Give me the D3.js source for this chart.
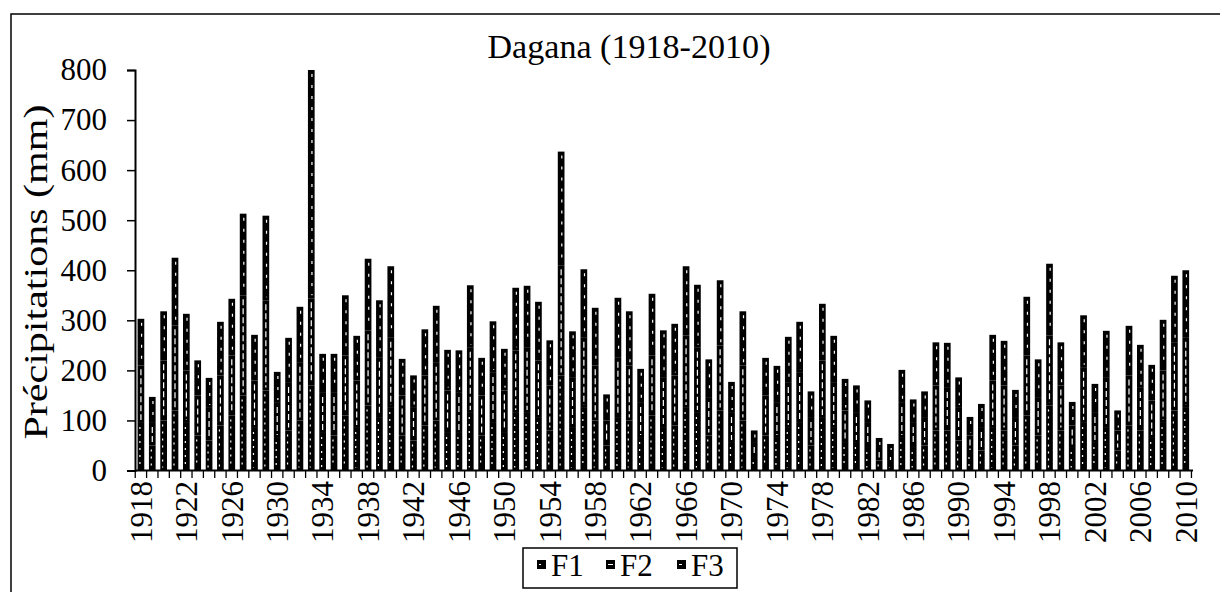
<!DOCTYPE html>
<html><head><meta charset="utf-8">
<script src="https://cdn.jsdelivr.net/npm/d3@7"></script>
<style>body{margin:0;background:#fff}</style>
</head><body><svg id="c" width="1220" height="592"></svg>
<script>
const years = d3.range(1918, 2011).map(String);
const tickYears = ["1918","1922","1926","1930","1934","1938","1942","1946","1950","1954","1958","1962","1966","1970","1974","1978","1982","1986","1990","1994","1998","2002","2006","2010"];
const yTicks = [0,100,200,300,400,500,600,700,800];
const seriesNames = ["F1","F2","F3"];
const F1 = [95,50,100,120,95,70,60,90,110,150,85,160,65,80,100,170,75,70,110,85,130,105,125,70,60,90,100,75,75,115,70,95,75,115,115,105,80,190,85,125,100,50,105,100,65,110,85,90,125,115,70,120,55,100,25,70,65,85,95,50,105,85,55,55,45,20,15,65,45,50,80,80,60,35,40,85,80,50,110,70,130,80,45,95,55,85,40,90,80,65,95,120,125];
const F2 = [115,45,120,170,105,80,65,100,120,200,95,180,70,95,115,174,80,85,120,95,150,120,140,80,65,100,115,85,80,130,80,100,85,125,130,115,90,220,100,140,110,50,120,110,70,120,100,100,145,130,75,130,60,110,30,80,70,90,100,55,115,90,65,60,50,25,20,70,50,55,90,85,65,35,45,95,90,55,120,75,140,90,45,110,60,100,40,100,85,75,105,135,140];
const F3 = [93,52,98,135,113,70,60,107,113,163,91,169,62,90,112,456,78,78,120,89,143,115,143,73,65,92,114,81,85,125,75,103,83,125,124,117,90,227,93,137,115,52,120,108,68,123,95,103,138,126,77,130,62,108,25,75,74,92,102,53,113,94,63,55,45,20,18,66,47,53,86,90,61,37,48,91,89,56,117,77,143,86,47,105,58,94,40,99,86,71,101,134,135];

const svg = d3.select("#c");
const font = "'Liberation Serif','Times New Roman',serif";
svg.append("rect").attr("x",11).attr("y",14).attr("width",1230).attr("height",600)
  .attr("fill","none").attr("stroke","#000").attr("stroke-width",1.5);

const x = d3.scaleBand().domain(years).range([135.3,1191.4]).paddingInner(0.41).paddingOuter(0.2);
const y = d3.scaleLinear().domain([0,800]).range([470.5,70]);

const rows = years.map((yr,i)=>({year:yr,F1:F1[i],F2:F2[i],F3:F3[i]}));
const stack = d3.stack().keys(seriesNames)(rows);
const dashes = {F1:"2,5",F2:"6,3",F3:"3,8"};
const offs = {F1:0.35,F2:0.5,F3:0.6};

const g = svg.append("g");
stack.forEach(s=>{
  const key = s.key;
  const gs = g.append("g");
  gs.selectAll("rect").data(s).join("rect")
    .attr("x",d=>x(d.data.year)).attr("width",x.bandwidth())
    .attr("y",d=>y(d[1])).attr("height",d=>y(d[0])-y(d[1]))
    .attr("fill","#000");
  gs.selectAll("line").data(s).join("line")
    .attr("x1",d=>x(d.data.year)+x.bandwidth()*offs[key])
    .attr("x2",d=>x(d.data.year)+x.bandwidth()*offs[key])
    .attr("y1",d=>y(d[1])+4).attr("y2",d=>Math.max(y(d[1])+4,y(d[0])-3))
    .attr("stroke","#fff").attr("stroke-width",1.2).attr("stroke-dasharray",dashes[key]);
});

// Y axis
const ya = svg.append("g").attr("transform","translate(135,0)")
  .call(d3.axisLeft(y).tickValues(yTicks).tickSize(8).tickPadding(20));
ya.select(".domain").attr("stroke","#000").attr("stroke-width",2);
ya.selectAll(".tick line").attr("stroke","#000").attr("stroke-width",1.5);
ya.selectAll("text").attr("font-family",font).attr("font-size",31).attr("fill","#000");

// X axis
const xa = svg.append("g");
xa.append("line").attr("x1",135).attr("x2",1193).attr("y1",470.5).attr("y2",470.5).attr("stroke","#000").attr("stroke-width",2);
const step = x.step();
const bounds = years.map(yr=>x(yr)-(step-x.bandwidth())/2);
bounds.push(x(years[years.length-1])+x.bandwidth()+(step-x.bandwidth())/2);
xa.selectAll("line.t").data(bounds).join("line").attr("class","t")
  .attr("x1",d=>d).attr("x2",d=>d).attr("y1",470.5).attr("y2",478).attr("stroke","#000").attr("stroke-width",1.3);
xa.selectAll("text").data(tickYears).join("text")
  .attr("transform",d=>`translate(${x(d)+x.bandwidth()/2},481) rotate(-90)`)
  .attr("text-anchor","end").attr("dy","0.35em")
  .attr("font-family",font).attr("font-size",31).text(d=>d);

// Title
svg.append("text").attr("x",629).attr("y",58).attr("text-anchor","middle")
  .attr("font-family",font).attr("font-size",33).attr("textLength",283).attr("lengthAdjust","spacingAndGlyphs")
  .text("Dagana (1918-2010)");
// Y label
svg.append("text").attr("transform","translate(47,272) rotate(-90)").attr("text-anchor","middle")
  .attr("font-family",font).attr("font-size",33).attr("textLength",335).attr("lengthAdjust","spacingAndGlyphs")
  .text("Précipitations (mm)");

// Legend
const lg = svg.append("g");
lg.append("rect").attr("x",523).attr("y",548).attr("width",214).attr("height",40)
  .attr("fill","#fff").attr("stroke","#000").attr("stroke-width",1.5);
const lx = [537,606,677];
seriesNames.forEach((n,i)=>{
  lg.append("rect").attr("x",lx[i]).attr("y",560).attr("width",9).attr("height",9).attr("fill","#000");
  lg.append("line").attr("x1",lx[i]+2).attr("x2",lx[i]+7).attr("y1",564.5).attr("y2",564.5).attr("stroke","#fff").attr("stroke-width",1).attr("stroke-dasharray",dashes[n]);
  lg.append("text").attr("x",lx[i]+14).attr("y",576).attr("font-family",font).attr("font-size",31).text(n);
});
</script></body></html>
